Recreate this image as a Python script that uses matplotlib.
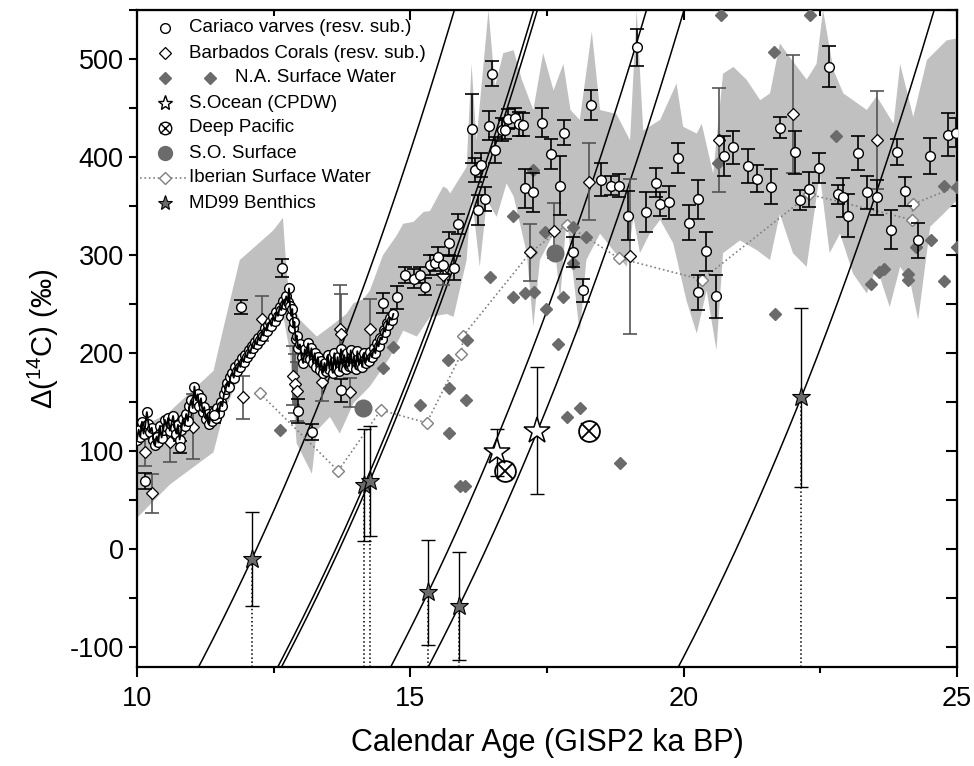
import numpy as np
import matplotlib
matplotlib.use('Agg')
import matplotlib.pyplot as plt
from matplotlib.ticker import MultipleLocator

plt.rcParams['font.family'] = ['Liberation Sans', 'DejaVu Sans']
plt.rcParams['mathtext.fontset'] = 'custom'
plt.rcParams['mathtext.rm'] = 'Liberation Sans'
plt.rcParams['mathtext.it'] = 'Liberation Sans:italic'
plt.rcParams['axes.unicode_minus'] = False

X_MIN, X_MAX = 10, 25
Y_MIN, Y_MAX = -120, 550

# grey envelope (upper and lower edge)
band_up_x = [10.00, 10.57, 11.40, 11.60, 11.88, 12.49, 12.67, 12.74, 12.80, 12.98, 13.29, 13.53, 13.83,
             13.96, 14.14, 14.26, 14.50, 14.75, 14.87, 15.06, 15.24, 15.36, 15.60, 15.67, 15.73, 16.03,
             16.12, 16.21, 16.43, 16.55, 16.70, 16.89, 17.04, 17.25, 17.43, 17.62, 17.80, 17.93, 18.10,
             18.32, 18.47, 18.77, 19.02, 19.14, 19.26, 19.57, 19.87, 19.99, 20.24, 20.33, 20.54, 20.72,
             20.91, 21.15, 21.40, 21.58, 21.76, 21.94, 22.25, 22.43, 22.55, 22.74, 22.92, 23.10, 23.35,
             23.53, 23.84, 23.96, 24.20, 24.45, 24.81, 25.00]
band_up_y = [122, 139, 182, 230, 295, 325, 338, 281, 257, 234, 217, 227, 240,
             251, 255, 264, 300, 320, 332, 334, 344, 345, 370, 368, 363, 390,
             495, 417, 550, 472, 506, 509, 479, 448, 506, 468, 495, 448, 438,
             528, 448, 444, 417, 550, 427, 438, 475, 431, 424, 434, 383, 485,
             492, 479, 458, 465, 516, 502, 479, 495, 550, 489, 465, 458, 448,
             462, 434, 495, 441, 499, 519, 521]
band_lo_x = [10.00, 10.60, 11.40, 11.58, 11.90, 12.31, 12.68, 12.80, 12.92, 13.20, 13.29, 13.53, 13.71,
             13.96, 14.26, 14.63, 14.87, 15.12, 15.36, 15.67, 15.79, 16.03, 16.12, 16.27, 16.40, 16.58,
             16.76, 16.89, 17.13, 17.25, 17.37, 17.62, 17.74, 17.86, 18.10, 18.22, 18.47, 18.71, 18.96,
             19.08, 19.20, 19.38, 19.57, 19.81, 20.05, 20.24, 20.42, 20.60, 20.72, 21.03, 21.34, 21.58,
             21.76, 22.00, 22.25, 22.49, 22.67, 22.86, 23.10, 23.35, 23.53, 23.77, 23.96, 24.14, 24.29,
             24.51, 24.75, 25.00]
band_lo_y = [32, 66, 99, 138, 180, 213, 237, 200, 108, 77, 121, 135, 118,
             149, 166, 196, 223, 217, 237, 240, 237, 295, 363, 288, 356, 339,
             373, 360, 302, 227, 295, 322, 254, 339, 220, 295, 322, 305, 288,
             339, 302, 322, 336, 312, 254, 220, 264, 203, 302, 315, 305, 295,
             342, 302, 288, 383, 302, 322, 281, 261, 288, 247, 288, 274, 234,
             329, 342, 356]

# Cariaco varves, densely sampled part (line + circles)
car_dense_x = [10.00, 10.03, 10.06, 10.09, 10.12, 10.15, 10.18, 10.21, 10.24, 10.27, 10.30, 10.33, 10.36,
               10.39, 10.42, 10.45, 10.48, 10.51, 10.54, 10.57, 10.60, 10.63, 10.66, 10.69, 10.72, 10.75,
               10.78, 10.81, 10.84, 10.87, 10.90, 10.93, 10.96, 10.99, 11.02, 11.05, 11.08, 11.11, 11.14,
               11.17, 11.20, 11.23, 11.26, 11.29, 11.32, 11.35, 11.38, 11.41, 11.44, 11.47, 11.50, 11.53,
               11.56, 11.59, 11.62, 11.65, 11.68, 11.71, 11.74, 11.77, 11.80, 11.83, 11.86, 11.89, 11.92,
               11.95, 11.98, 12.01, 12.04, 12.07, 12.10, 12.13, 12.16, 12.19, 12.22, 12.25, 12.28, 12.31,
               12.34, 12.37, 12.40, 12.43, 12.46, 12.49, 12.52, 12.55, 12.58, 12.61, 12.64, 12.67, 12.70,
               12.73, 12.76, 12.78, 12.80, 12.82, 12.84, 12.86, 12.88, 12.90, 12.92, 12.95, 12.98, 13.01,
               13.04, 13.07, 13.10, 13.13, 13.16, 13.19, 13.22, 13.25, 13.28, 13.31, 13.34, 13.37, 13.40,
               13.43, 13.46, 13.49, 13.52, 13.55, 13.58, 13.61, 13.64, 13.67, 13.70, 13.73, 13.76, 13.79,
               13.82, 13.85, 13.88, 13.91, 13.94, 13.97, 14.00, 14.03, 14.06, 14.09, 14.12, 14.15, 14.18,
               14.21, 14.24, 14.27, 14.30, 14.33, 14.36, 14.39, 14.42, 14.45, 14.48, 14.51, 14.54, 14.57,
               14.60, 14.63, 14.66, 14.69]
car_dense_y = [112, 122, 115, 130, 118, 126, 140, 128, 120, 124, 112, 106, 115,
               109, 126, 114, 122, 132, 125, 134, 121, 128, 136, 124, 118, 127,
               112, 122, 133, 126, 138, 131, 146, 152, 144, 166, 152, 158, 146,
               154, 140, 145, 133, 138, 128, 136, 131, 140, 134, 144, 139, 150,
               146, 158, 163, 170, 166, 176, 180, 175, 186, 182, 190, 186, 195,
               191, 198, 196, 203, 200, 207, 205, 211, 209, 216, 213, 220, 218,
               226, 223, 229, 232, 228, 237, 233, 242, 238, 247, 244, 253, 250,
               258, 252, 266, 248, 238, 245, 226, 232, 214, 218, 205, 209, 196,
               190, 204, 196, 210, 194, 205, 190, 200, 186, 196, 183, 192, 180,
               190, 182, 198, 184, 195, 180, 200, 185, 196, 182, 204, 186, 198,
               184, 200, 187, 203, 186, 197, 184, 202, 188, 196, 186, 200, 190,
               197, 192, 201, 196, 205, 200, 210, 207, 216, 214, 224, 222, 231,
               229, 236, 234, 240]

# Cariaco varves with error bars
car_x = [10.15, 10.79, 11.40, 11.91, 12.65, 12.95, 13.20, 13.74, 14.50, 14.75, 14.90, 15.06, 15.18,
         15.27, 15.36, 15.45, 15.51, 15.60, 15.70, 15.79, 15.87, 16.12, 16.18, 16.24, 16.30, 16.37,
         16.43, 16.49, 16.55, 16.67, 16.73, 16.79, 16.91, 16.98, 17.07, 17.10, 17.24, 17.40, 17.57,
         17.74, 17.81, 17.98, 18.15, 18.31, 18.49, 18.67, 18.82, 18.99, 19.14, 19.32, 19.49, 19.57,
         19.74, 19.90, 20.09, 20.27, 20.26, 20.41, 20.59, 20.74, 20.91, 21.17, 21.34, 21.59, 21.76,
         22.04, 22.13, 22.29, 22.48, 22.66, 22.83, 22.92, 23.01, 23.18, 23.36, 23.53, 23.79, 23.91,
         24.05, 24.29, 24.51, 24.84, 24.99]
car_y = [70, 104, 137, 247, 287, 141, 120, 162, 251, 257, 280, 276, 280,
         268, 290, 292, 298, 290, 312, 287, 332, 429, 387, 346, 392, 357,
         432, 485, 407, 428, 428, 439, 440, 434, 433, 368, 364, 435, 403,
         371, 425, 303, 264, 453, 377, 371, 371, 340, 512, 344, 374, 352,
         354, 399, 333, 357, 262, 304, 258, 401, 410, 391, 378, 370, 430,
         405, 356, 367, 389, 492, 362, 359, 340, 404, 364, 359, 326, 405,
         365, 315, 401, 423, 425]
car_err = [8, 6, 8, 7, 9, 12, 8, 12, 10, 12, 8, 10, 8,
           9, 10, 8, 10, 9, 12, 12, 10, 35, 12, 15, 12, 12,
           15, 13, 13, 12, 10, 10, 10, 12, 12, 20, 20, 15, 15,
           30, 13, 15, 12, 15, 17, 10, 12, 25, 19, 20, 15, 12,
           17, 15, 18, 20, 18, 20, 22, 20, 17, 17, 14, 18, 11,
           22, 10, 18, 15, 21, 10, 20, 22, 17, 17, 18, 20, 13,
           15, 18, 18, 22, 15]

# Barbados corals
bar_x = [10.15, 10.27, 10.60, 11.03, 11.94, 12.28, 12.86, 12.89, 12.92, 13.38, 13.71, 13.74, 13.90,
         14.26, 15.60, 17.19, 17.62, 18.26, 19.02, 20.64, 22.00, 23.53]
bar_y = [99, 57, 109, 125, 155, 235, 177, 169, 161, 171, 225, 220, 160,
         225, 280, 303, 325, 375, 299, 417, 444, 417]
bar_err = [14, 20, 20, 33, 22, 23, 30, 30, 30, 20, 45, 40, 15,
           30, 10, 29, 28, 39, 79, 53, 60, 50]

# North Atlantic surface water
na_x = [12.62, 14.50, 14.69, 15.18, 15.69, 15.70, 15.70, 15.90, 16.00, 16.01, 16.03, 16.46, 16.88,
        16.87, 17.09, 17.26, 17.48, 17.80, 17.25, 17.47, 17.97, 18.21, 17.97, 17.71, 17.87, 18.10,
        18.83, 20.69, 22.31, 21.66, 22.79, 20.63, 21.67, 23.42, 23.58, 23.66, 24.10, 24.10, 24.25,
        24.52, 24.76, 25.00, 24.76, 25.00]
na_y = [122, 185, 206, 147, 193, 165, 119, 65, 65, 152, 213, 278, 340,
        257, 261, 262, 245, 257, 387, 324, 329, 319, 292, 209, 135, 144,
        88, 545, 545, 507, 421, 394, 240, 271, 283, 286, 281, 275, 308,
        315, 371, 370, 274, 308]

# Iberian surface water
ib_x = [12.25, 13.68, 14.46, 15.30, 15.93, 15.97, 17.20, 17.86, 18.81, 20.33, 22.30, 24.18, 24.19, 25.00]
ib_y = [159, 80, 142, 129, 199, 218, 303, 331, 297, 275, 362, 336, 352, 370]

# Southern Ocean (CPDW)
so_x = [16.58, 17.32]
so_y = [99, 121]
so_err = [24, 65]

# Deep Pacific
dp_x = [16.74, 18.27]
dp_y = [80, 121]

# S.O. surface
sos_x = [14.14, 17.65]
sos_y = [144, 302]

# MD99 benthics
md_x = [12.10, 14.16, 14.26, 15.32, 15.89, 22.15]
md_y = [-10, 66, 70, -44, -58, 155]
md_err = [48, 57, 56, 54, 55, 91]

# conventional 14C ages of the constant-age lines (yr)
c14_ages = [11838, 13246, 13313, 15253, 15920, 20366]

GREY = '#6b6b6b'

fig = plt.figure(figsize=(9.74, 7.66), dpi=100)
ax = fig.add_axes([137 / 974, 1 - 667 / 766, 820 / 974, 657 / 766])

ax.fill(band_up_x + band_lo_x[::-1], band_up_y + band_lo_y[::-1],
        color='#c0c0c0', lw=0, zorder=1)

# lines of constant radiocarbon age: D14C = exp(cal/8267 - c14/8033) - 1
cal = np.linspace(X_MIN, X_MAX, 400)
for age in c14_ages:
    ax.plot(cal, 1000 * (np.exp(cal * 1000 / 8267 - age / 8033) - 1), color='k', lw=1.1, zorder=2)

ax.plot(ib_x, ib_y, ls=':', color='#808080', lw=1.2, marker='D', ms=6.5, mfc='white',
        mec='#808080', mew=1, zorder=3)

ax.errorbar(bar_x, bar_y, yerr=bar_err, fmt='none', ecolor='#555555', elinewidth=1.2,
            capsize=5, capthick=1.2, zorder=4)
ax.plot(bar_x, bar_y, 'D', ms=6.5, mfc='white', mec='black', mew=0.9, zorder=5)

ax.plot(na_x, na_y, 'D', ms=6.5, mfc=GREY, mec=GREY, zorder=4)

ax.errorbar(car_x, car_y, yerr=car_err, fmt='none', ecolor='black', elinewidth=1.2,
            capsize=5, capthick=1.2, zorder=5)
ax.plot(car_dense_x, car_dense_y, 'o', ms=7, mfc='white', mec='black', mew=1, zorder=5)
ax.plot(car_dense_x, car_dense_y, color='k', lw=1.3, zorder=6)
ax.plot(car_x, car_y, 'o', ms=7, mfc='white', mec='black', mew=1, zorder=6)

ax.plot(sos_x, sos_y, 'o', ms=12, mfc=GREY, mec=GREY, zorder=6)

ax.errorbar(so_x, so_y, yerr=so_err, fmt='none', ecolor='black', elinewidth=1,
            capsize=5, capthick=1, zorder=6)
ax.plot(so_x, so_y, '*', ms=20, mfc='white', mec='black', mew=1.1, zorder=7)

ax.plot(dp_x, dp_y, 'o', ms=15, mfc='none', mec='black', mew=1.3, zorder=7)
ax.plot(dp_x, dp_y, 'x', ms=11.5, mec='black', mew=1.3, zorder=7)

ax.vlines(md_x, Y_MIN, md_y, colors='k', linestyles=':', lw=1.1, zorder=6)
ax.errorbar(md_x, md_y, yerr=md_err, fmt='none', ecolor='black', elinewidth=1,
            capsize=5, capthick=1, zorder=6)
ax.plot(md_x, md_y, '*', ms=14, mfc=GREY, mec='black', mew=0.8, zorder=7)

ax.set_xlim(X_MIN, X_MAX)
ax.set_ylim(Y_MIN, Y_MAX)
ax.xaxis.set_major_locator(MultipleLocator(5))
ax.xaxis.set_minor_locator(MultipleLocator(2.5))
ax.yaxis.set_major_locator(MultipleLocator(100))
ax.yaxis.set_minor_locator(MultipleLocator(50))
for sp in ax.spines.values():
    sp.set_linewidth(1.6)
ax.tick_params(axis='x', which='major', direction='out', length=7, width=1.5, labelsize=19.5, pad=7)
ax.tick_params(axis='x', which='minor', direction='out', length=4, width=1.5)
ax.tick_params(axis='y', which='both', direction='out', length=6, width=1.5, labelsize=19.5)

top = ax.secondary_xaxis('top')
top.xaxis.set_major_locator(MultipleLocator(5))
top.xaxis.set_minor_locator(MultipleLocator(2.5))
top.tick_params(which='major', direction='in', length=7, width=1.5, labeltop=False)
top.tick_params(which='minor', direction='in', length=4, width=1.5)
right = ax.secondary_yaxis('right')
right.yaxis.set_major_locator(MultipleLocator(100))
right.yaxis.set_minor_locator(MultipleLocator(50))
right.tick_params(which='both', direction='in', length=8, width=1.5, labelright=False)

ax.set_xlabel('Calendar Age (GISP2 ka BP)', fontsize=22, labelpad=11)
ax.set_ylabel(r'$\Delta$($^{14}$C) (‰)', fontsize=21, labelpad=6)

# legend drawn in axes fraction
def fx(px):
    return (px - 137) / 820

def fy(py):
    return (667 - py) / 657

rows = [28, 53, 78, 103, 128, 153, 178, 203]
labels = ['Cariaco varves (resv. sub.)', 'Barbados Corals (resv. sub.)', 'N.A. Surface Water',
          'S.Ocean (CPDW)', 'Deep Pacific', 'S.O. Surface', 'Iberian Surface Water', 'MD99 Benthics']
kw = dict(transform=ax.transAxes, clip_on=False, zorder=10)
mx = fx(165)
ax.plot(mx, fy(rows[0]), 'o', ms=7, mfc='white', mec='k', mew=1, **kw)
ax.plot(mx, fy(rows[1]), 'D', ms=6.5, mfc='white', mec='k', mew=0.9, **kw)
ax.plot([mx, fx(210)], [fy(rows[2])] * 2, 'D', ms=6.5, mfc=GREY, mec=GREY, ls='none', **kw)
ax.plot(mx, fy(rows[3]), '*', ms=11, mfc='white', mec='k', mew=1, **kw)
ax.plot(mx, fy(rows[4]), 'o', ms=9, mfc='none', mec='k', mew=1, **kw)
ax.plot(mx, fy(rows[4]), 'x', ms=7, mec='k', mew=1, **kw)
ax.plot(mx, fy(rows[5]), 'o', ms=10, mfc=GREY, mec=GREY, **kw)
ax.plot([fx(140), fx(188)], [fy(rows[6])] * 2, ls=':', color='#808080', lw=1.2, **kw)
ax.plot(mx, fy(rows[6]), 'D', ms=6.5, mfc='white', mec='#808080', mew=1, **kw)
ax.plot(mx, fy(rows[7]), '*', ms=11, mfc=GREY, mec='k', mew=0.8, **kw)
for i, (r, lab) in enumerate(zip(rows, labels)):
    tx = fx(235) if i == 2 else fx(189)
    ax.text(tx, fy(r), lab, fontsize=13.5, va='center', ha='left', transform=ax.transAxes, zorder=10)

fig.savefig('out.png', dpi=100)
